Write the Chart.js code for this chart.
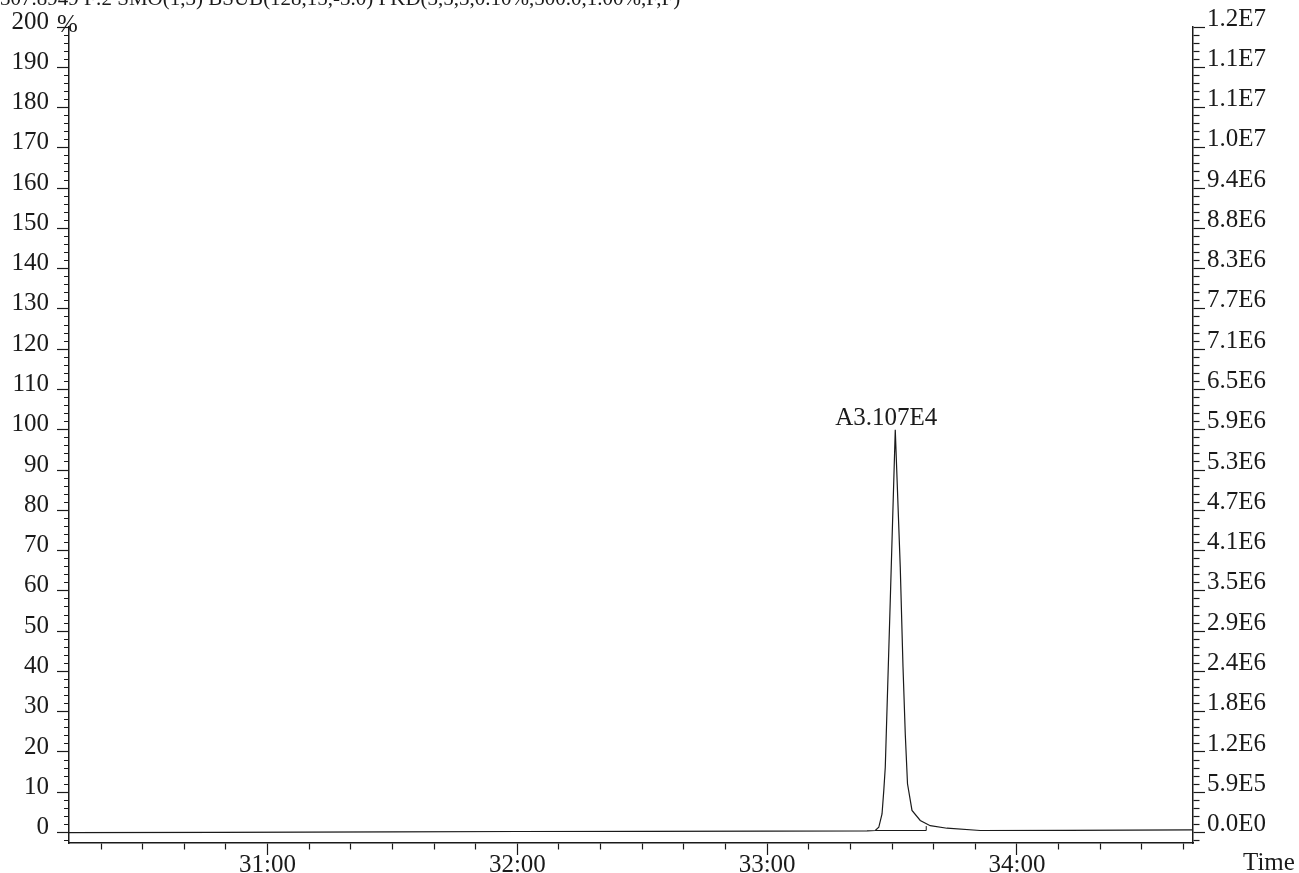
<!DOCTYPE html>
<html lang="en">
<head>
  <meta charset="UTF-8">
  <title>Chromatogram 307.8949</title>
  <script src="https://cdnjs.cloudflare.com/ajax/libs/Chart.js/4.4.1/chart.umd.min.js"></script>
  <style>
    body { margin: 0; background: #fff; }
    #wrap { width: 1299px; height: 873px; }
  </style>
</head>
<body>
  <div id="wrap"><canvas id="chromChart" width="1299" height="873"></canvas></div>
  <script>
    // header line (mostly cut off at the top of the scan)
    const headerText = '307.8949 F:2 SMO(1,3) BSUB(128,15,-3.0) PKD(3,5,3,0.10%,500.0,1.00%,F,F)';
    const peakLabel = 'A3.107E4';

    // trace: retention time (min) and relative intensity (%)
    const traceTime = [30.205, 30.8, 31.5, 32.0, 32.5, 33.0, 33.40, 33.433, 33.447, 33.460, 33.467,
      33.473, 33.493, 33.513, 33.533, 33.544, 33.553, 33.562, 33.580, 33.613, 33.653, 33.72,
      33.853, 34.2, 34.705];
    const traceIntensity = [0.0, 0.05, 0.15, 0.25, 0.3, 0.35, 0.4, 0.5, 1.3, 4.6, 10.4,
      16.2, 57.6, 100, 65.9, 41.1, 24.5, 12.1, 5.5, 3.0, 1.7, 1.07,
      0.5, 0.55, 0.65];

    // integration baseline under the peak
    const baseTime = [33.433, 33.637, 33.637];
    const baseIntensity = [0.5, 0.5, 1.6];

    // axis labels
    const leftTickLabels = ['0', '10', '20', '30', '40', '50', '60', '70', '80', '90', '100',
      '110', '120', '130', '140', '150', '160', '170', '180', '190', '200'];
    const rightTickLabels = ['0.0E0', '5.9E5', '1.2E6', '1.8E6', '2.4E6', '2.9E6', '3.5E6',
      '4.1E6', '4.7E6', '5.3E6', '5.9E6', '6.5E6', '7.1E6', '7.7E6', '8.3E6', '8.8E6', '9.4E6',
      '1.0E7', '1.1E7', '1.1E7', '1.2E7'];
    const timeTickLabels = ['31:00', '32:00', '33:00', '34:00'];

    const ink = '#1a1a1a';
    const serif = "'Liberation Serif', 'DejaVu Serif', serif";
    const tickFont = { family: serif, size: 25 };

    const isTen = v => Math.abs(v / 10 - Math.round(v / 10)) < 1e-6;
    const isMinute = v => Math.abs(v - Math.round(v)) < 1e-6;

    // loose texts: header, % sign, Time, peak area label
    const textPlugin = {
      id: 'looseText',
      afterDraw(chart) {
        const ctx = chart.ctx;
        const xs = chart.scales.x, ys = chart.scales.y;
        ctx.save();
        ctx.fillStyle = ink;
        ctx.textBaseline = 'alphabetic';
        ctx.textAlign = 'left';
        ctx.font = '21px ' + serif;
        ctx.fillText(headerText, 0, 5);
        ctx.font = '25px ' + serif;
        ctx.fillText('%', 57, 32);
        ctx.fillText('Time', 1243, 870);
        const top = traceIntensity.indexOf(Math.max(...traceIntensity));
        ctx.textAlign = 'center';
        ctx.fillText(peakLabel,
          xs.getPixelForValue(traceTime[top]) - 9,
          ys.getPixelForValue(traceIntensity[top]) - 5);
        ctx.restore();
      }
    };

    const ctx = document.getElementById('chromChart').getContext('2d');
    new Chart(ctx, {
      type: 'line',
      data: {
        datasets: [{
          data: traceTime.map((t, i) => ({ x: t, y: traceIntensity[i] })),
          borderColor: ink,
          borderWidth: 1.2,
          pointRadius: 0,
          tension: 0
        }, {
          data: baseTime.map((t, i) => ({ x: t, y: baseIntensity[i] })),
          borderColor: ink,
          borderWidth: 1,
          pointRadius: 0,
          tension: 0
        }]
      },
      options: {
        responsive: false,
        animation: false,
        layout: { padding: { top: 27, left: 0, right: 0, bottom: 0 } },
        plugins: {
          legend: { display: false },
          tooltip: { enabled: false }
        },
        scales: {
          x: {
            type: 'linear',
            min: 30.205,
            max: 34.705,
            afterFit(s) { s.height = 30; },
            // one tick every 10 seconds
            afterBuildTicks(s) {
              const t = [];
              for (let k = Math.ceil(s.min * 6); k <= Math.floor(s.max * 6); k++) t.push({ value: k / 6 });
              s.ticks = t;
            },
            border: { color: ink, width: 1.5 },
            grid: {
              drawOnChartArea: false,
              tickLength: 12,
              tickColor: ink,
              tickWidth: 1.2,
              tickBorderDash: c => (c.tick && isMinute(c.tick.value)) ? [] : [6, 100]
            },
            ticks: {
              autoSkip: false,
              maxRotation: 0,
              padding: -5,
              color: ink,
              font: tickFont,
              callback: v => isMinute(v) ? (timeTickLabels[Math.round(v) - 31] || '') : ''
            }
          },
          y: {
            position: 'left',
            min: -2.6,
            max: 200,
            afterFit(s) { s.width = 69; },
            border: { color: ink, width: 1.5 },
            grid: {
              drawOnChartArea: false,
              tickLength: 12,
              tickColor: ink,
              tickWidth: 1.2,
              tickBorderDash: c => (c.tick && isTen(c.tick.value)) ? [] : [0, 7, 5, 100]
            },
            ticks: {
              stepSize: 2,
              includeBounds: false,
              autoSkip: false,
              padding: 8,
              labelOffset: -5,
              color: ink,
              font: tickFont,
              callback: v => isTen(v) ? (leftTickLabels[Math.round(v / 10)] || '') : ''
            }
          },
          y2: {
            position: 'right',
            min: -2.6,
            max: 200,
            afterFit(s) { s.width = 106; },
            border: { color: ink, width: 1.5 },
            grid: {
              drawOnChartArea: false,
              tickLength: 12,
              tickColor: ink,
              tickWidth: 1.2,
              tickBorderDash: c => (c.tick && isTen(c.tick.value)) ? [] : [6, 100]
            },
            ticks: {
              stepSize: 2,
              includeBounds: false,
              autoSkip: false,
              padding: 2,
              labelOffset: -8,
              color: ink,
              font: tickFont,
              callback: v => isTen(v) ? (rightTickLabels[Math.round(v / 10)] || '') : ''
            }
          }
        }
      },
      plugins: [textPlugin]
    });
  </script>
</body>
</html>
